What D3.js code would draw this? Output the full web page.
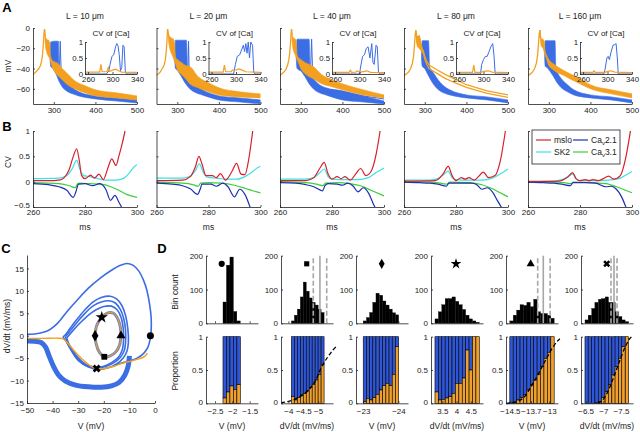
<!DOCTYPE html>
<html lang="en">
<head>
<meta charset="UTF-8" />
<title>Ca channel figure</title>
<script src="https://d3js.org/d3.v7.min.js"></script>
<style>
  html, body { margin: 0; background: #fff; }
  svg { display: block; font-family: "Liberation Sans", Arial, sans-serif; }
  .axis path, .axis line { stroke: #222; stroke-width: 0.8px; }
  .axis text { fill: #222; font-size: 8px; font-family: "Liberation Sans", Arial, sans-serif; }
  .small text { font-size: 7.8px; }
  .lbl { font-size: 8.5px; fill: #222; }
  .panel { font-size: 13px; font-weight: bold; fill: #000; }
</style>
</head>
<body>
<svg id="fig" width="640" height="432"></svg>
<script>
// ---------------- Panel A: voltage traces + CV of [Ca] insets ----------------
const aTitles = ['L = 10 \u03bcm', 'L = 20 \u03bcm', 'L = 40 \u03bcm', 'L = 80 \u03bcm', 'L = 160 \u03bcm'];
const aXTicks = [300, 400, 500];
const aYTicks = [0, -20, -40, -60];
const cvXTicks = [260, 300, 340];
const cvYTicks = [0, 0.5, 1];

// [ms, mV]
const aOrangeLines = [
  [[[250,-46],[258,-43],[264,-40],[268,-37],[271,-32],[273,-26],[275,-15],[276.5,-5],[277.5,-1],[279,-8]]],
  [[[250,-47],[258,-44],[264,-40],[268,-37],[271,-32],[273,-25],[275,-14],[276.5,-1],[278,-6]]],
  [[[250,-47],[258,-44],[264,-41],[268,-37],[271,-32],[273,-26],[275,-16],[276.5,-6],[277.5,-1],[279,-7]]],
  [[[250,-47],[260,-44],[266,-40],[270,-35],[273,-28],[275,-18],[277,-6],[278.5,-2],[280,-8],[281.5,-15],[283,-12],[285,-9],[286.9,-8],[289,-14],[292,-19],[296,-23]],
   [[296,-22],[300,-28],[305,-33],[310,-36.5],[320,-39],[330,-41.5],[350,-46],[375,-51],[400,-56],[450,-62],[500,-66]],
   [[296,-24],[300,-31],[305,-36],[310,-40],[320,-42.5],[330,-45],[350,-50],[375,-54.5],[400,-58.5],[450,-64.5],[500,-68.5]]],
  [[[250,-47],[260,-44],[266,-40],[270,-35],[273,-27],[275,-17],[277,-6],[278.5,-2],[280,-10]]]
];
// [ms, low mV, high mV]
const aOrangeBands = [
  [[[278,-6,-1],[280,-18,-8],[283,-24,-11],[287,-28,-12],[290,-30,-13],[292,-33,-27],[295,-37,-31],[300,-42,-33],[310,-47,-35],[320,-51,-40],[330,-55,-44],[350,-60,-52],[375,-64,-57],[400,-67,-61],[450,-69,-64],[500,-71,-67]]],
  [[[277,-5,-1],[280,-16,-7],[283,-22,-9],[287,-26,-10],[291,-30,-11],[294,-34,-18],[296,-36,-29],[300,-41,-31],[310,-46,-34],[320,-50,-37],[330,-55,-38],[350,-59,-48],[375,-63,-54],[400,-66,-59],[450,-68,-63],[500,-69,-65]]],
  [[[278,-6,-1],[280,-17,-8],[283,-23,-10],[287,-27,-11],[289,-29,-13],[291,-31,-26],[294,-34,-29],[297,-37,-30],[300,-40,-31],[310,-45,-34],[320,-48,-36],[330,-50,-38],[350,-55,-46],[375,-58,-51],[400,-61,-55],[450,-66,-61],[500,-69,-66]]],
  [[[279,-10,-3],[282,-18,-8],[286,-20,-8],[290,-22,-12],[293,-24,-18],[296,-25,-22]]],
  [[[279,-8,-2],[282,-18,-10],[286,-20,-11],[289,-24,-13],[291,-27,-22],[294,-30,-26],[300,-37,-31],[310,-41,-35],[320,-44,-38],[334,-46.5,-41.5],[350,-50,-45],[375,-55,-50],[400,-60,-56],[450,-65,-61],[500,-69,-65]]]
];
const aBlueBands = [
  [[[291,-30,-28],[292.5,-38,-14],[300,-40,-13],[305,-42,-13],[311,-44,-13],[312,-46,-35]],
   [[295,-38,-30],[305,-45,-38],[312,-52,-42],[320,-58,-46],[330,-62,-53],[345,-65,-59],[360,-67,-63],[400,-70,-67],[450,-72,-69],[500,-74,-71]]],
  [[[294,-32,-30],[295.5,-40,-12],[310,-43,-12],[322,-46,-12],[324,-48,-40]],
   [[298,-40,-32],[310,-48,-40],[320,-55,-45],[330,-60,-50],[345,-64,-57],[360,-66,-61],[400,-71,-67],[450,-73,-69],[500,-75,-71]]],
  [[[289,-30,-28],[291,-40,-11],[305,-43,-11],[320,-46,-11],[322,-48,-38]],
   [[296,-40,-32],[310,-48,-40],[320,-55,-45],[330,-60,-50],[345,-64,-56],[360,-66,-59],[400,-71,-62],[450,-73,-67],[500,-75,-72]]],
  [[[292,-30,-28],[294,-38,-12.5],[309,-42,-12.5],[311,-44,-36]],
   [[300,-40,-32],[310,-48,-38],[320,-55,-44],[330,-60,-50],[345,-64,-57],[360,-66,-61],[400,-69,-66],[450,-71,-68],[500,-74,-71]]],
  [[[290,-30,-28],[291.5,-38,-12.5],[315,-42,-12.5],[316.5,-44,-36]],
   [[298,-40,-32],[310,-47,-38],[320,-54,-44],[330,-59,-50],[345,-63,-56],[360,-66,-61],[400,-69,-66],[450,-71,-68],[500,-74,-71]]]
];
const aBlueLines = [
  [[[313,-46],[315.5,-13],[318,-48]]],
  [[[325,-48],[327,-13],[329,-52]]],
  [[[323,-47],[326,-11],[329,-52]], [[330,-55],[360,-60],[400,-63],[450,-67],[500,-70]]],
  [],
  []
];
// CV of [Ca], [ms, CV]
const aCvBlue = [
  [[255,0],[290,0],[294,0.1],[296,0.3],[299,0.55],[302,0.6],[305,0.85],[307,0.95],[309,0.88],[311,0.6],[313,0.1],[315,0.2],[317,0.9],[319,0.85],[321,0.05],[323,0],[340,0]],
  [[255,0],[296,0],[299,0.3],[302,0.55],[306,0.6],[309,0.75],[312,0.9],[314,0.7],[316,0.95],[318,0.65],[320,1.0],[322,0.5],[324,1.0],[327,0.9],[329,0.05],[331,0],[340,0]],
  [[255,0],[300,0],[302,0.25],[305,0.55],[308,0.6],[311,0.8],[314,0.85],[317,0.5],[320,0.95],[322,0.35],[324,0.3],[327,0.9],[329,0.85],[331,0.05],[333,0],[340,0]],
  [[255,0],[295,0],[297,0.3],[300,0.45],[303,0.55],[306,0.55],[309,0.7],[312,0.85],[315,0.95],[317,0.6],[319,0.02],[321,0],[340,0]],
  [[255,0],[294,0],[296,0.15],[299,0.5],[301,0.55],[303,0.45],[306,0.7],[309,0.9],[312,0.92],[314,0.95],[316,0.5],[317.5,0],[340,0]]
];
const aCvOrange = [
  [[255,0.06],[270,0.06],[279,0.06],[281,0.3],[283,0.07],[291,0.07],[293,0.2],[295,0.08],[300,0.12],[305,0.15],[310,0.1],[315,0.06],[340,0.05]],
  [[255,0.06],[279,0.06],[281,0.28],[283,0.07],[292,0.07],[294,0.12],[300,0.13],[305,0.16],[310,0.12],[316,0.07],[340,0.05]],
  [[255,0.05],[283,0.05],[285,0.12],[287,0.05],[294,0.06],[296,0.1],[300,0.05],[308,0.08],[312,0.1],[318,0.05],[340,0.04]],
  [[255,0.05],[282,0.05],[284,0.28],[286,0.05],[296,0.05],[300,0.08],[308,0.1],[314,0.06],[340,0.04]],
  [[255,0.05],[276,0.05],[278,0.1],[280,0.05],[296,0.05],[300,0.08],[306,0.1],[312,0.06],[340,0.04]]
];

// ---------------- Panel B: CV of channel currents ----------------
const bXTicks = [260, 280, 300];
const bYTicks = [-0.5, 0, 0.5, 1];
const bNames = ['mslo', 'SK2', 'Ca_v2.1', 'Ca_v3.1'];
const bMslo = [
  [[260,0.02],[266,0.02],[270,0.03],[272,0.08],[274,0.25],[275.5,0.5],[276.8,0.65],[277.7,0.45],[278.7,0.12],[280,0.06],[282.2,0.13],[283.6,0.07],[285.4,0.15],[287,0.04],[289,0.3],[290.3,0.45],[291.9,0.32],[293,0.5],[294.3,0.75],[295.4,1.0]],
  [[260,0.02],[270,0.03],[273,0.1],[275,0.3],[276.3,0.5],[277.5,0.35],[279,0.12],[281.5,0.12],[283,0.08],[284.6,0.16],[286.5,0.03],[289,0.2],[290.8,0.36],[292.5,0.15],[294,0.14],[295.5,0.45],[297,1.0]],
  [[260,0.02],[270,0.02],[273,0.08],[275.5,0.28],[277,0.38],[278.5,0.15],[280,0.05],[282,0.1],[283.5,0.06],[285,0.1],[287,0.03],[289.5,0.18],[291,0.26],[293,0.12],[295,0.2],[297,0.55],[298.5,1.0]],
  [[260,0.01],[272,0.02],[275,0.15],[277,0.3],[278.5,0.12],[280,0.02],[282,0.08],[283.5,0.05],[285,0.08],[287,0.03],[289,0.12],[290.5,0.19],[292.5,0.08],[295,0.12],[297,0.4],[299,1.0]],
  [[260,0.0],[272,0.01],[275,0.08],[277.2,0.18],[278.5,0.06],[280,0.02],[282,0.04],[283.5,0.02],[285,0.04],[287,0.02],[289,0.06],[291,0.11],[293,0.05],[295.5,0.12],[297.5,0.45],[299.4,1.0]]
];
const bSk2 = [
  [[260,0.06],[270,0.07],[273,0.12],[275,0.25],[276.8,0.42],[278,0.25],[279.5,0.12],[282,0.1],[285,0.06],[288,0.03],[292,0.03],[295,0.07],[297,0.17],[299,0.3],[300,0.34]],
  [[260,0.07],[270,0.07],[273,0.11],[275,0.22],[276.5,0.35],[278,0.18],[279.5,0.09],[283,0.07],[287,0.05],[291,0.05],[294,0.1],[297,0.2],[299,0.28],[300,0.3]],
  [[260,0.05],[270,0.05],[273,0.08],[275,0.16],[277,0.25],[278.5,0.1],[280,0.05],[285,0.04],[290,0.04],[294,0.08],[297,0.18],[300,0.27]],
  [[260,0.03],[270,0.03],[273,0.06],[275,0.13],[277,0.21],[278.5,0.08],[280,0.04],[285,0.03],[290,0.03],[294,0.07],[297,0.15],[300,0.25]],
  [[260,0.01],[270,0.01],[273,0.04],[275.5,0.1],[277.2,0.15],[278.5,0.05],[280,0.02],[286,0.02],[291,0.03],[295,0.06],[298,0.14],[300,0.2]]
];
const bCav21 = [
  [[260,-0.04],[266,-0.06],[270,-0.1],[273,-0.17],[275.5,-0.31],[276.5,-0.2],[277.5,-0.05],[280,-0.04],[283,-0.08],[285.5,-0.04],[288,-0.15],[289.8,-0.37],[291.5,-0.27],[293,-0.4],[294.5,-0.55]],
  [[260,-0.03],[266,-0.05],[270,-0.08],[273,-0.14],[275.8,-0.25],[276.8,-0.15],[277.5,-0.05],[281,-0.05],[283,-0.09],[285.5,-0.03],[287.5,-0.1],[290,-0.3],[292,-0.15],[294,-0.25],[296.3,-0.55]],
  [[260,-0.02],[266,-0.03],[270,-0.06],[273,-0.1],[276.3,-0.18],[277.3,-0.08],[278.5,-0.04],[282,-0.05],[284,-0.07],[286,-0.03],[288,-0.08],[290,-0.2],[292,-0.12],[294,-0.22],[296,-0.45],[297,-0.55]],
  [[260,-0.01],[266,-0.02],[270,-0.03],[273,-0.05],[276.3,-0.09],[277.3,-0.03],[282,-0.03],[286,-0.03],[288,-0.06],[290,-0.15],[292,-0.12],[294,-0.2],[296,-0.38],[298,-0.55]],
  [[260,-0.01],[266,-0.02],[270,-0.03],[273,-0.05],[276.3,-0.08],[277.3,-0.02],[282,-0.02],[286,-0.03],[290,-0.1],[292,-0.09],[294,-0.15],[296,-0.3],[298,-0.55]]
];
const bCav31 = [
  [[260,-0.02],[270,-0.04],[274,-0.08],[276.3,-0.12],[277,-0.05],[278,-0.03],[282,-0.04],[286,-0.05],[290,-0.1],[293,-0.17],[296,-0.25],[300,-0.31]],
  [[260,-0.01],[270,-0.03],[274,-0.06],[276,-0.09],[277,-0.03],[280,-0.02],[285,-0.03],[290,-0.07],[294,-0.13],[297,-0.18],[300,-0.22]],
  [[260,0],[270,-0.02],[274,-0.05],[276.5,-0.08],[277.5,-0.03],[282,-0.02],[287,-0.04],[291,-0.08],[295,-0.17],[300,-0.28]],
  [[260,0],[270,-0.01],[274,-0.03],[276.5,-0.05],[277.5,-0.01],[285,-0.02],[290,-0.06],[294,-0.14],[297,-0.22],[300,-0.3]],
  [[260,0],[270,-0.01],[274,-0.02],[276.5,-0.04],[277.5,-0.01],[285,-0.02],[290,-0.04],[294,-0.1],[297,-0.16],[300,-0.22]]
];

// ---------------- Panel C: phase plane [V, dV/dt] ----------------
const cXTicks = [-50, -40, -30, -20, -10, 0];
const cYTicks = [-15, -10, -5, 0, 5, 10, 15];
const cOuter = [[-50,0.3],[-47,0.4],[-44,0.7],[-41,1.4],[-38,2.8],[-34.5,5.3],[-30,8.2],[-26,10.6],[-21.5,12.8],[-17,14.6],[-13.5,15.7],[-11,16.1],[-8.5,15.7],[-6.3,14.4],[-4.5,12.4],[-3.2,10.2],[-2.1,7],[-1.5,4],[-1.5,1.2],[-1.9,-0.8],[-2.8,-2.6],[-4.5,-4],[-7,-5],[-10,-5.6],[-13,-6.1],[-16,-6.6]];
const cLower = [[-50,-1.2],[-47,-1.25],[-44.5,-1.5],[-42.8,-2.5],[-41.3,-4.6],[-39.5,-7],[-37.5,-8.9],[-35,-10.1],[-31,-11],[-26,-11.4],[-21,-11.5],[-17,-11.2],[-14,-10.4],[-11.8,-8.8],[-10.5,-6.8],[-10,-4.5]];
const cInner = [
  [[-36,-0.3],[-35,0.2],[-33,1.8],[-30,4],[-27,6],[-24,7.6],[-21,8.5],[-17.5,8.8],[-15,8.2],[-13,6.8],[-11.5,4.5],[-10.6,1.5],[-10.4,-1.5],[-11,-3.5],[-12.5,-5],[-15,-6.3],[-18,-7.1],[-22,-7.5],[-26,-7],[-30,-5.5],[-33,-3],[-35,-1],[-36,-0.3]],
  [[-35,-0.2],[-33,1.2],[-30,3.3],[-27,5.2],[-24,6.7],[-21,7.5],[-18,7.8],[-15.5,7.3],[-13.5,5.8],[-12.2,3.8],[-11.5,1.2],[-11.5,-1.5],[-12,-3.3],[-13.5,-4.8],[-16,-6],[-19,-6.8],[-23,-7.2],[-27,-6.6],[-31,-4.6],[-34,-1.8],[-35,-0.2]],
  [[-34.5,-0.5],[-32,1.2],[-29,3],[-26,4.6],[-23,5.8],[-20,6.5],[-17,6.6],[-14.8,5.8],[-13.2,4],[-12.4,1.5],[-12.3,-1.2],[-12.8,-3.2],[-14.3,-4.8],[-17,-6],[-20,-6.8],[-23.5,-7],[-27,-6.4],[-30.5,-4.6],[-33.5,-2],[-34.5,-0.5]]
];
const cOrange = [[-50,-0.6],[-44,-0.6],[-38,-0.55],[-36,-0.65],[-34.3,-1.5],[-31.5,-3.4],[-28.5,-5.2],[-25.5,-6.6],[-22.8,-7.3],[-19.5,-7.3],[-16,-6.8],[-12.5,-6.1],[-9,-5.6],[-6,-5.1],[-4,-4.6],[-3,-3.9]];
const cLoop = [[-13.3,0],[-13.8,-2],[-15.3,-3.6],[-17.5,-4.5],[-19.8,-4.7],[-21.7,-3.7],[-23,-1.8],[-23.4,0],[-22.8,2.2],[-20.8,4.1],[-18.5,5.1],[-16.2,5],[-14.4,3.6],[-13.5,1.8],[-13.3,0]];
const cMarkV = [-1.8, -19.8, -23.4, -20.8, -13.3, -22.8];
const cMarkDv = [0, -4.7, 0, 4.1, 0, -7.3];

// ---------------- Panel D: histograms and proportions ----------------
const dXLabels = ['V (mV)', 'dV/dt (mV/ms)', 'V (mV)', 'dV/dt (mV/ms)', 'V (mV)', 'dV/dt (mV/ms)'];
const dDomains = [[-2.76,-1.26],[-3.75,-5.5],[-22.8,-24.27],[3.1,4.93],[-14.65,-12.67],[-6.37,-7.84]];
const dTicks = [[-2.5,-2,-1.5],[-4,-4.5,-5],[-23,-24],[3.5,4,4.5],[-14.5,-13.7,-13],[-6.5,-7,-7.5]];
const dCountTicks = [0, 100, 200];
const dPropTicks = [0, 0.5, 1];
const dCenters = [
  [-2.22,-2.12,-2.02,-1.92,-1.82],
  [-4.15,-4.25,-4.35,-4.45,-4.55,-4.65,-4.75,-4.85,-4.95,-5.05,-5.15],
  [-23.05,-23.14,-23.23,-23.32,-23.41,-23.51,-23.6,-23.69,-23.78,-23.87,-23.96],
  [3.3,3.42,3.54,3.66,3.78,3.9,4.02,4.14,4.26,4.38,4.5,4.62,4.74],
  [-14.44,-14.31,-14.18,-14.05,-13.92,-13.79,-13.66,-13.53,-13.4,-13.27,-13.14,-13.01,-12.88],
  [-6.53,-6.62,-6.72,-6.81,-6.91,-7.0,-7.1,-7.19,-7.29,-7.38,-7.48,-7.57,-7.67]
];
const dCounts = [
  [63,172,196,35,7],
  [7,24,42,78,122,95,75,62,54,42,32],
  [7,17,32,62,89,83,66,54,42,31,25],
  [13,34,55,73,73,78,65,55,41,24,13,7,3],
  [7,24,39,55,53,62,49,71,34,29,29,24,15],
  [10,24,44,62,71,73,78,62,62,34,20,10,5]
];
const dOrange = [
  [0.08,0.17,0.26,0.21,0.28],
  [0.1,0.05,0.085,0.125,0.15,0.185,0.235,0.285,0.35,0.435,0.585],
  [0.025,0.075,0.05,0.085,0.135,0.2,0.265,0.3,0.265,0.435,0.85],
  [0.17,0.05,0.06,0.08,0.1,0.15,0.3,0.3,0.38,0.8,0.5,1.0,1.0],
  [0.015,0.015,0.05,0.085,0.125,0.2,0.275,0.35,0.435,0.55,0.675,0.765,1.0],
  [0,0,0,0.01,0.025,0.085,0.175,0.275,0.425,0.55,0.675,0.85,1.0]
];
// threshold lines: [dashed, solid, dashed]
const dGray = [[], [-4.837,-5.06,-5.288], [], [], [-13.443,-13.23,-12.97], [-7.218,-7.303,-7.388]];
const dFit = [
  [],
  [[-3.75,0.01],[-3.9,0.02],[-4.1,0.04],[-4.3,0.08],[-4.5,0.13],[-4.7,0.21],[-4.9,0.33],[-5.1,0.53],[-5.3,0.68],[-5.5,0.8],[-5.6,0.85]],
  [],
  [],
  [[-14.65,0.0],[-14.4,0.01],[-14.1,0.05],[-13.9,0.12],[-13.7,0.25],[-13.5,0.38],[-13.3,0.53],[-13.1,0.68],[-12.9,0.82],[-12.7,0.93],[-12.6,0.97]],
  [[-6.85,0.0],[-6.95,0.03],[-7.05,0.1],[-7.15,0.2],[-7.25,0.33],[-7.35,0.47],[-7.45,0.62],[-7.55,0.76],[-7.65,0.88],[-7.75,0.97],[-7.85,1.03]]
];
const dMarkV = [-2.307, -4.615, -23.527, 3.98, -13.71, -7.097];
const dMarkCount = 176;

// ---------------- drawing ----------------
const svg = d3.select('#fig');
const defs = svg.append('defs');
const BLUE = '#3b6de4', ORANGE = '#f3a020';
const DBLUE = '#2f56d6', DORANGE = '#f0a02c';
const fmt = d3.format('~g');
const symbols = [d3.symbolCircle, d3.symbolSquare, d3.symbolDiamond, d3.symbolStar, d3.symbolTriangle, d3.symbolCross];
const symRot = [0, 0, 0, 0, 0, 45];
const symSize = [30, 26, 30, 36, 28, 30];

function axB(scale, ticks, labels, pad) {
  return d3.axisBottom(scale).tickValues(ticks).tickSizeInner(-2).tickSizeOuter(0)
    .tickPadding(pad).tickFormat(labels ? fmt : '');
}
function axL(scale, ticks, labels, pad) {
  return d3.axisLeft(scale).tickValues(ticks).tickSizeInner(-2).tickSizeOuter(0)
    .tickPadding(pad).tickFormat(labels ? fmt : '');
}
function text(x, y, s, cls, rot) {
  const t = svg.append('text').attr('class', cls || 'lbl').attr('text-anchor', 'middle')
    .attr('x', x).attr('y', y).text(s);
  if (rot) t.attr('transform', `rotate(-90,${x},${y})`);
  return t;
}

// panel letters
text(7, 12, 'A', 'panel');
text(7, 131, 'B', 'panel');
text(6, 253, 'C', 'panel');
text(162, 253, 'D', 'panel');

// ---- A ----
const aX0 = [33, 156.5, 280, 404, 528];
text(11, 66, 'mV', 'lbl', true);
aX0.forEach((x0, i) => {
  const x = d3.scaleLinear().domain([250, 500]).range([x0, x0 + 104]);
  const y = d3.scaleLinear().domain([-75, 0]).range([104, 28]);
  defs.append('clipPath').attr('id', 'ca' + i).append('rect')
    .attr('x', x0).attr('y', 22).attr('width', 104).attr('height', 82);
  const p = svg.append('g').attr('clip-path', `url(#ca${i})`);
  const band = d3.area().x(d => x(d[0])).y0(d => y(d[1])).y1(d => y(d[2])).curve(d3.curveMonotoneX);
  const line = d3.line().x(d => x(d[0])).y(d => y(d[1]));

  aBlueBands[i].forEach(b => p.append('path').attr('d', band(b))
    .attr('fill', BLUE).attr('stroke', BLUE).attr('stroke-width', 0.6));
  aBlueLines[i].forEach(l => p.append('path').attr('d', line(l))
    .attr('fill', 'none').attr('stroke', BLUE).attr('stroke-width', 1));
  aOrangeBands[i].forEach(b => p.append('path').attr('d', band(b))
    .attr('fill', ORANGE).attr('stroke', ORANGE).attr('stroke-width', 0.6));
  aOrangeLines[i].forEach(l => p.append('path').attr('d', line(l))
    .attr('fill', 'none').attr('stroke', ORANGE).attr('stroke-width', 1.3));

  svg.append('g').attr('class', 'axis').attr('transform', 'translate(0,104)').call(axB(x, aXTicks, true, 3));
  svg.append('g').attr('class', 'axis').attr('transform', `translate(${x0},0)`).call(axL(y, aYTicks, i === 0, 3));
  text(x0 + 52, 19, aTitles[i]);

  // inset
  const ix = d3.scaleLinear().domain([255, 340]).range([x0 + 52, x0 + 104]);
  const iy = d3.scaleLinear().domain([0, 1]).range([74, 42]);
  const il = d3.line().x(d => ix(d[0])).y(d => iy(d[1]));
  svg.append('path').attr('d', il(aCvBlue[i])).attr('fill', 'none').attr('stroke', BLUE).attr('stroke-width', 1);
  svg.append('path').attr('d', il(aCvOrange[i])).attr('fill', 'none').attr('stroke', ORANGE).attr('stroke-width', 1.2);
  svg.append('g').attr('class', 'axis small').attr('transform', 'translate(0,74)').call(axB(ix, cvXTicks, true, 2));
  svg.append('g').attr('class', 'axis small').attr('transform', `translate(${x0 + 52},0)`).call(axL(iy, cvYTicks, true, 2));
  text(x0 + 78, 36, 'CV of [Ca]').style('font-size', '8px');
});

// ---- B ----
const bColors = ['#d8202c', '#3fe0e0', '#1e2fb0', '#3ccf3c'];
const bSeries = [bMslo, bSk2, bCav21, bCav31];
text(11, 162, 'CV', 'lbl', true);
aX0.forEach((x0, i) => {
  const x = d3.scaleLinear().domain([260, 300]).range([x0, x0 + 104]);
  const y = d3.scaleLinear().domain([-0.5, 1]).range([207, 131]);
  defs.append('clipPath').attr('id', 'cb' + i).append('rect')
    .attr('x', x0).attr('y', 126).attr('width', 106).attr('height', 81);
  const p = svg.append('g').attr('clip-path', `url(#cb${i})`);
  const line = d3.line().x(d => x(d[0])).y(d => y(d[1])).curve(d3.curveMonotoneX);
  [3, 2, 1, 0].forEach(k => p.append('path').attr('d', line(bSeries[k][i]))
    .attr('fill', 'none').attr('stroke', bColors[k]).attr('stroke-width', 1.2));
  svg.append('g').attr('class', 'axis').attr('transform', 'translate(0,207)').call(axB(x, bXTicks, true, 2));
  const ya = svg.append('g').attr('class', 'axis').attr('transform', `translate(${x0},0)`).call(axL(y, bYTicks, i === 0, 3));
  ya.selectAll('.tick text').filter(d => d === -0.5).attr('dy', '0.05em');
  text(x0 + 52, 230, 'ms');
});
// legend
const lg = svg.append('g');
lg.append('rect').attr('x', 532).attr('y', 130).attr('width', 88).attr('height', 34)
  .attr('fill', '#fff').attr('stroke', '#222').attr('stroke-width', 0.8);
const legPos = [[536, 140], [536, 152], [573, 140], [573, 152]];
bNames.forEach((n, k) => {
  const [lx, ly] = legPos[k];
  lg.append('line').attr('x1', lx).attr('x2', lx + 15).attr('y1', ly).attr('y2', ly)
    .attr('stroke', bColors[k]).attr('stroke-width', 1.2);
  const t = lg.append('text').attr('class', 'lbl').attr('x', lx + 18).attr('y', ly + 3);
  const parts = n.split('_');
  if (parts.length === 1) { t.text(n); }
  else {
    t.append('tspan').text(parts[0].slice(0, 2));
    t.append('tspan').attr('dy', 2).style('font-size', '6px').text(parts[1].slice(0, 1));
    t.append('tspan').attr('dy', -2).text(parts[1].slice(1));
  }
});

// ---- C ----
{
  const x = d3.scaleLinear().domain([-50, 0]).range([27, 155]);
  const y = d3.scaleLinear().domain([-15, 18]).range([403, 255]);
  const line = d3.line().x(d => x(d[0])).y(d => y(d[1])).curve(d3.curveCatmullRom);
  const g = svg.append('g');
  g.append('path').attr('d', line(cLower)).attr('fill', 'none').attr('stroke', BLUE).attr('stroke-width', 5);
  cInner.forEach(c => g.append('path').attr('d', line(c)).attr('fill', 'none').attr('stroke', BLUE).attr('stroke-width', 1.6));
  g.append('path').attr('d', line(cOuter)).attr('fill', 'none').attr('stroke', BLUE).attr('stroke-width', 1.6);
  g.append('path').attr('d', line(cOrange)).attr('fill', 'none').attr('stroke', ORANGE).attr('stroke-width', 1.4);
  g.append('path').attr('d', line(cLoop)).attr('fill', 'none').attr('stroke', '#7a88b8').attr('stroke-width', 3);
  g.append('path').attr('d', line(cLoop)).attr('fill', 'none').attr('stroke', ORANGE).attr('stroke-width', 1);
  cMarkV.forEach((v, k) => g.append('path')
    .attr('d', d3.symbol().type(symbols[k]).size(symSize[k] * 1.3)())
    .attr('transform', `translate(${x(v)},${y(cMarkDv[k])}) rotate(${symRot[k]})`)
    .attr('fill', '#000'));
  svg.append('g').attr('class', 'axis').attr('transform', 'translate(0,403)').call(axB(x, cXTicks, true, 4));
  svg.append('g').attr('class', 'axis').attr('transform', 'translate(27,0)').call(axL(y, cYTicks, true, 3));
  text(91, 429, 'V (mV)');
  text(10, 326, 'dV/dt (mV/ms)', 'lbl', true);
}

// ---- D ----
const dX0 = [206, 281, 356, 431, 506, 581];
text(178, 292, 'Bin count', 'lbl', true);
text(178, 371, 'Proportion', 'lbl', true);
dX0.forEach((x0, i) => {
  const x = d3.scaleLinear().domain(dDomains[i]).range([x0, x0 + 52]);
  const yh = d3.scaleLinear().domain([0, 200]).range([323.3, 255.7]);
  const yp = d3.scaleLinear().domain([0, 1]).range([403.3, 336.7]);
  const c = dCenters[i];
  const w = Math.abs(c[c.length - 1] - c[0]) / (c.length - 1);
  const g = svg.append('g');
  c.forEach((v, k) => {
    const xa = x(v - w / 2), xb = x(v + w / 2);
    const left = Math.min(xa, xb), wid = Math.abs(xb - xa);
    g.append('rect').attr('x', left).attr('width', wid)
      .attr('y', yh(dCounts[i][k])).attr('height', yh(0) - yh(dCounts[i][k]))
      .attr('fill', '#000').attr('stroke', '#000').attr('stroke-width', 0.3);
    const pr = dOrange[i][k];
    g.append('rect').attr('x', left).attr('width', wid)
      .attr('y', yp(1)).attr('height', yp(pr) - yp(1))
      .attr('fill', DBLUE).attr('stroke', '#000').attr('stroke-width', 0.6);
    g.append('rect').attr('x', left).attr('width', wid)
      .attr('y', yp(pr)).attr('height', yp(0) - yp(pr))
      .attr('fill', DORANGE).attr('stroke', '#000').attr('stroke-width', 0.6);
  });
  dGray[i].forEach((v, k) => g.append('line')
    .attr('x1', x(v)).attr('x2', x(v)).attr('y1', yh(0)).attr('y2', yh(200))
    .attr('stroke', '#a6a6a6').attr('stroke-width', 1.6)
    .attr('stroke-dasharray', k === 1 ? null : '5,2.5'));
  if (dFit[i].length) {
    const fl = d3.line().x(d => x(d[0])).y(d => yp(d[1])).curve(d3.curveCatmullRom);
    g.append('path').attr('d', fl(dFit[i])).attr('fill', 'none')
      .attr('stroke', '#000').attr('stroke-width', 1.3).attr('stroke-dasharray', '4,2.5');
  }
  g.append('path').attr('d', d3.symbol().type(symbols[i]).size(symSize[i])())
    .attr('transform', `translate(${x(dMarkV[i])},${yh(dMarkCount)}) rotate(${symRot[i]})`)
    .attr('fill', '#000');

  svg.append('g').attr('class', 'axis').attr('transform', 'translate(0,323.3)').call(axB(x, dTicks[i], false, 4));
  svg.append('g').attr('class', 'axis').attr('transform', `translate(${x0},0)`).call(axL(yh, dCountTicks, true, 3));
  svg.append('g').attr('class', 'axis').attr('transform', 'translate(0,403.3)').call(axB(x, dTicks[i], true, 5));
  const yl = svg.append('g').attr('class', 'axis').attr('transform', `translate(${x0},0)`).call(axL(yp, dPropTicks, true, 3));
  yl.selectAll('.tick text').filter(d => d === 0).attr('dy', '0.15em');
  text(x0 + 26, 429, dXLabels[i]);
});
</script>
</body>
</html>
